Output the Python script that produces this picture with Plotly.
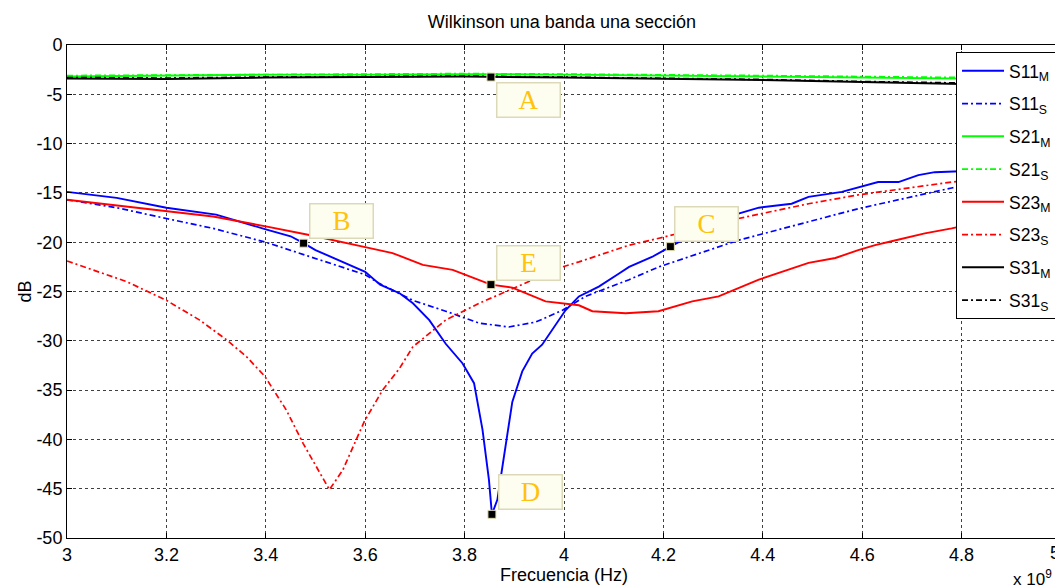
import plotly.graph_objects as go

# ---------------- data (frequency in units of 1e9 Hz, values in dB) ----------------
f_s11m = [3.0, 3.1, 3.2, 3.3, 3.4, 3.45, 3.476, 3.5, 3.6, 3.63, 3.67, 3.696, 3.729, 3.762,
          3.796, 3.819, 3.836, 3.849, 3.855, 3.866, 3.876, 3.896, 3.916, 3.936, 3.956, 3.976,
          4.003, 4.03, 4.07, 4.11, 4.131, 4.177, 4.214, 4.28, 4.351, 4.392, 4.458, 4.492,
          4.559, 4.632, 4.673, 4.713, 4.746, 4.8, 4.9, 5.0]
s11_m = [-14.9, -15.5, -16.5, -17.2, -18.7, -19.4, -20.1, -20.8, -23.0, -24.3, -25.2, -26.2,
         -27.9, -30.3, -32.3, -34.3, -39.0, -44.1, -47.6, -46.1, -42.8, -36.2, -33.1, -31.3,
         -30.4, -28.9, -26.9, -25.5, -24.5, -23.2, -22.5, -21.5, -20.45, -18.6, -17.1, -16.5,
         -16.1, -15.4, -14.9, -13.9, -13.9, -13.2, -12.9, -12.8, -12.6, -12.3]

f_s11s = [3.0, 3.1, 3.2, 3.294, 3.4, 3.49, 3.6, 3.629, 3.696, 3.762, 3.829, 3.889, 3.943,
          3.997, 4.043, 4.131, 4.191, 4.351, 4.492, 4.592, 4.78, 4.9, 5.0]
s11_s = [-15.7, -16.5, -17.6, -18.6, -20.0, -21.5, -23.3, -24.2, -25.9, -27.0, -28.2, -28.6,
         -28.1, -26.9, -25.5, -23.8, -22.5, -19.8, -17.9, -16.6, -14.5, -13.6, -12.9]

f_top = [3.0, 3.2, 3.4, 3.6, 3.8, 4.0, 4.2, 4.4, 4.6, 4.8, 5.0]
s21_m = [-3.2, -3.1, -3.0, -3.0, -2.95, -3.0, -3.1, -3.2, -3.3, -3.4, -3.5]
s21_s = [-3.1, -3.05, -2.95, -2.9, -2.9, -2.95, -3.0, -3.1, -3.2, -3.3, -3.4]
s31_m = [-3.4, -3.45, -3.3, -3.25, -3.2, -3.3, -3.4, -3.55, -3.75, -3.95, -4.0]
s31_s = [-3.3, -3.35, -3.25, -3.2, -3.15, -3.25, -3.35, -3.5, -3.7, -3.85, -3.9]

f_s23m = [3.0, 3.1, 3.2, 3.294, 3.4, 3.49, 3.6, 3.655, 3.716, 3.776, 3.853, 3.896, 3.963,
          4.03, 4.057, 4.124, 4.19, 4.258, 4.311, 4.392, 4.492, 4.546, 4.592, 4.626, 4.659,
          4.726, 4.78, 4.9, 5.0]
s23_m = [-15.7, -16.3, -16.9, -17.4, -18.4, -19.3, -20.5, -21.1, -22.3, -22.8, -24.3, -24.6,
         -26.0, -26.4, -27.0, -27.2, -27.0, -26.0, -25.5, -23.8, -22.1, -21.6, -20.8, -20.3,
         -19.9, -19.1, -18.6, -17.3, -16.3]

f_s23s = [3.0, 3.053, 3.12, 3.2, 3.267, 3.321, 3.361, 3.398, 3.441, 3.475, 3.508, 3.528,
          3.555, 3.582, 3.598, 3.635, 3.669, 3.696, 3.762, 3.829, 3.896, 3.936, 3.997, 4.03,
          4.131, 4.191, 4.351, 4.492, 4.592, 4.78, 4.9, 5.0]
s23_s = [-21.9, -22.8, -24.0, -25.9, -27.9, -29.9, -31.6, -33.6, -37.0, -40.4, -43.4, -45.1,
         -43.1, -40.1, -38.2, -35.0, -32.8, -30.6, -27.9, -26.2, -24.7, -23.8, -22.5, -22.0,
         -20.3, -19.6, -17.6, -16.1, -15.2, -13.9, -13.3, -12.7]

# data-cursor points
cursor_labels = ["A", "B", "C", "D", "E"]
cursor_f = [3.853, 3.476, 4.214, 3.855, 3.853]
cursor_db = [-3.25, -20.1, -20.45, -47.6, -24.3]

x_ticks = [3.0, 3.2, 3.4, 3.6, 3.8, 4.0, 4.2, 4.4, 4.6, 4.8, 5.0]
x_ticktext = ["3", "3.2", "3.4", "3.6", "3.8", "4", "4.2", "4.4", "4.6", "4.8", "5"]
y_ticks = [0, -5, -10, -15, -20, -25, -30, -35, -40, -45, -50]
y_ticktext = ["0", "-5", "-10", "-15", "-20", "-25", "-30", "-35", "-40", "-45", "-50"]

# ---------------- figure ----------------
FONT = "Liberation Sans, Arial, sans-serif"
DASHDOT = "6px,3px,2px,3px"

series = [
    ("S11<sub>M</sub>", f_s11m, s11_m, "#0000FF", "solid", 1.9),
    ("S11<sub>S</sub>", f_s11s, s11_s, "#0000FF", DASHDOT, 1.7),
    ("S21<sub>M</sub>", f_top, s21_m, "#00FF00", "solid", 1.9),
    ("S21<sub>S</sub>", f_top, s21_s, "#00FF00", DASHDOT, 1.7),
    ("S23<sub>M</sub>", f_s23m, s23_m, "#FF0000", "solid", 1.9),
    ("S23<sub>S</sub>", f_s23s, s23_s, "#FF0000", DASHDOT, 1.7),
    ("S31<sub>M</sub>", f_top, s31_m, "#000000", "solid", 1.9),
    ("S31<sub>S</sub>", f_top, s31_s, "#000000", DASHDOT, 1.7),
]

fig = go.Figure()
for i, (name, fx, fy, col, dash, w) in enumerate(series):
    fig.add_trace(go.Scatter(x=fx, y=fy, mode="lines", name=name, legendgroup=f"g{i}",
                             line=dict(color=col, dash=dash, width=w)))

fig.add_trace(go.Scatter(x=cursor_f, y=cursor_db, mode="markers", showlegend=False,
                         marker=dict(symbol="square", size=8, color="black",
                                     line=dict(color="#E4E0B0", width=1))))

# label boxes next to each cursor
shifts = {"A": (5, -5, "top"), "B": (5, 4, "bottom"), "C": (4, 5, "bottom"),
          "D": (6, 4, "bottom"), "E": (5, 4, "bottom")}
for lab, fx, fy in zip(cursor_labels, cursor_f, cursor_db):
    xs, ys, ya = shifts[lab]
    fig.add_annotation(x=fx, y=fy, xref="x", yref="y", text=lab, showarrow=False,
                       xanchor="left", yanchor=ya, xshift=xs, yshift=ys,
                       width=60, height=31, bgcolor="#FEFEF0", bordercolor="#DCD9B8",
                       borderwidth=1.5, borderpad=1,
                       font=dict(family="Liberation Serif, Times New Roman, serif",
                                 size=27, color="#FFC20E"))

# last tick label sits at the very edge of the window; keep it inside the page
fig.add_annotation(x=x_ticks[-1], y=0, xref="x", yref="paper", text=x_ticktext[-1],
                   showarrow=False, xanchor="right", yanchor="top", yshift=-3, xshift=1,
                   font=dict(family=FONT, size=18, color="black"))

fig.add_annotation(x=1.0, y=0, xref="paper", yref="paper", text="x 10<sup>9</sup>",
                   showarrow=False, xanchor="right", yanchor="top", yshift=-27, xshift=-7,
                   font=dict(family=FONT, size=17, color="black"))

axis_common = dict(showline=True, linecolor="black", linewidth=1, mirror="ticks",
                   ticks="inside", ticklen=5, tickcolor="black",
                   showgrid=True, gridcolor="#404040", gridwidth=1, griddash="3px,3px",
                   zeroline=False, tickfont=dict(family=FONT, size=18, color="black"))

fig.update_xaxes(range=[3.0, 5.0], tickvals=x_ticks, ticktext=x_ticktext,
                 title=dict(text="Frecuencia (Hz)", font=dict(family=FONT, size=18, color="black"),
                            standoff=4),
                 **axis_common)
fig.update_yaxes(range=[-50, 0], tickvals=y_ticks, ticktext=y_ticktext,
                 title=dict(text="dB", font=dict(family=FONT, size=18, color="black"),
                            standoff=0),
                 **axis_common)

# the page body has an 8px margin: figure origin sits at (8, 8) in the window
fig.update_layout(
    width=1055, height=580,
    margin=dict(l=59, r=2, t=37, b=50),
    paper_bgcolor="white", plot_bgcolor="white",
    title=dict(text="Wilkinson una banda una sección", x=0.525, xanchor="center",
               y=0.976, yanchor="middle", font=dict(family=FONT, size=18, color="black")),
    legend=dict(x=0.996, y=0.986, xanchor="right", yanchor="top",
                bgcolor="white", bordercolor="black", borderwidth=1,
                font=dict(family=FONT, size=17.5, color="black"),
                itemwidth=42, tracegroupgap=7),
    showlegend=True,
)

fig.write_html("out.html")
